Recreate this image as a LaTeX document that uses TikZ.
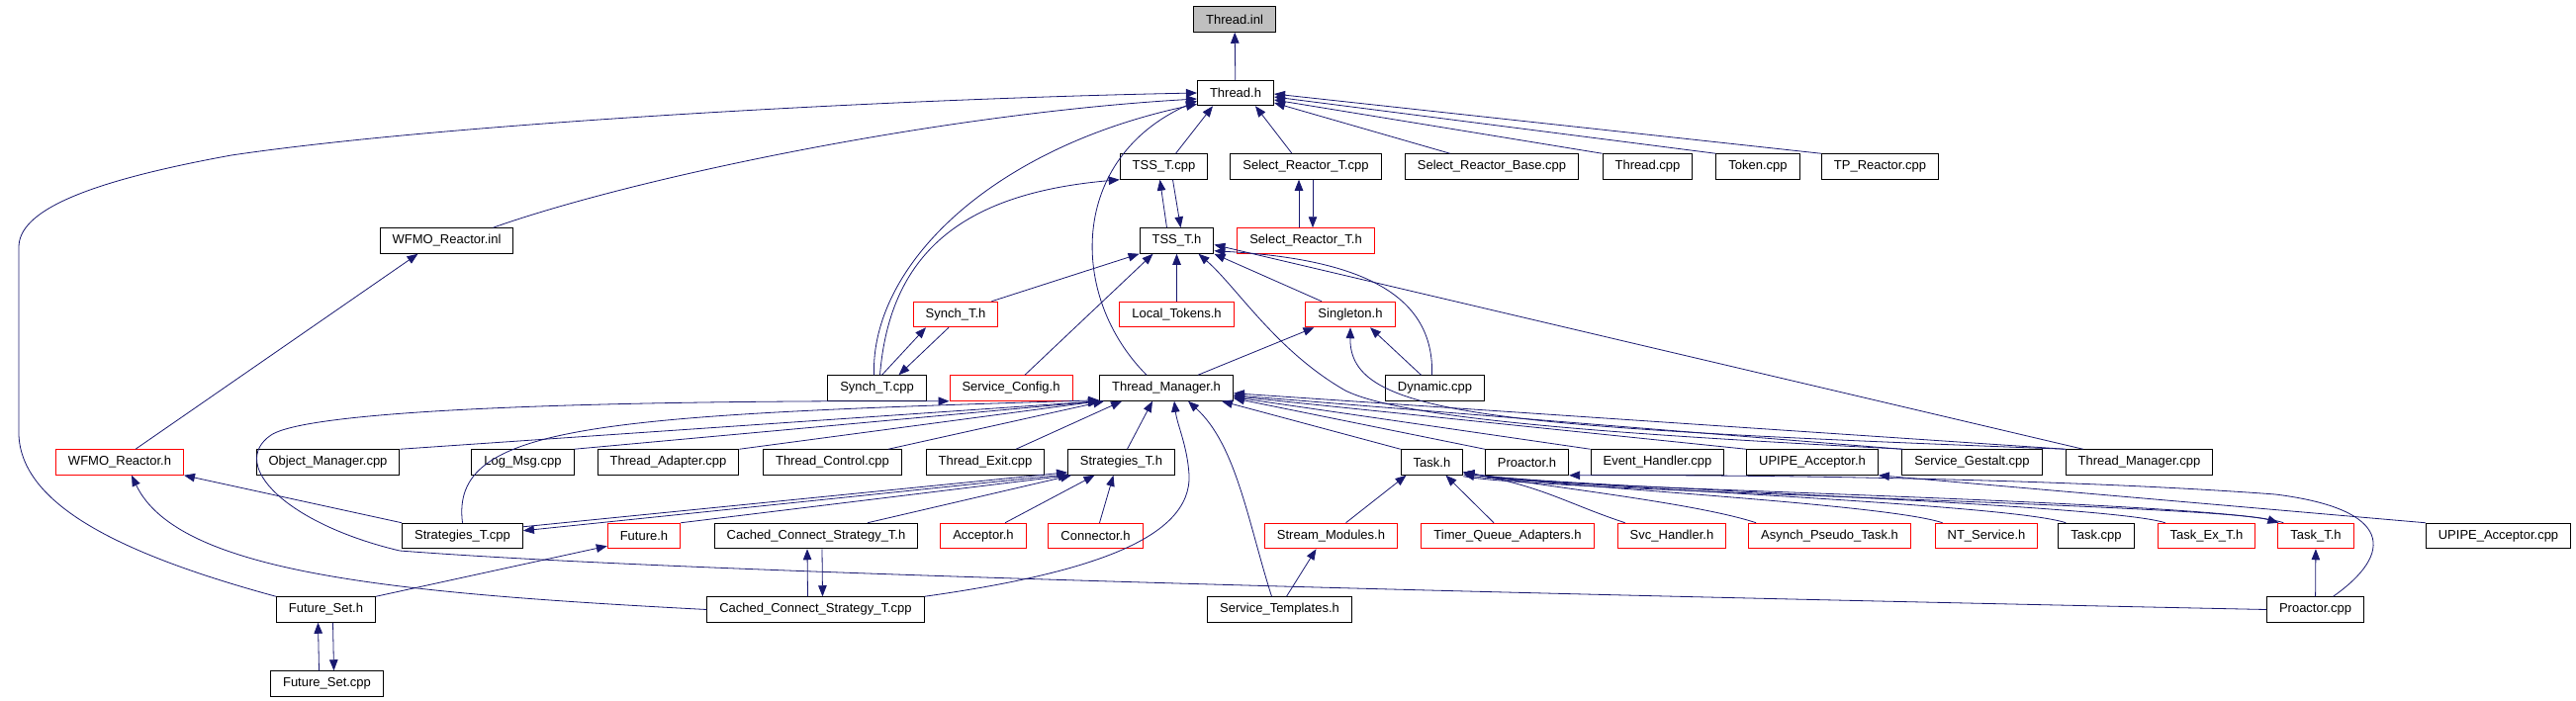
\documentclass[tikz,border=0pt]{standalone}
\usepackage{fontspec}
\setmainfont{Liberation Sans}
\usepackage{tikz}
\usetikzlibrary{arrows.meta}

\definecolor{edgeblue}{RGB}{25,25,112}
\definecolor{rootgray}{RGB}{191,191,191}

\begin{document}
\begin{tikzpicture}[x=1pt, y=-1pt,
	file/.style={draw=black, line width=1pt, font=\fontsize{13}{15}\selectfont, inner xsep=12.5pt, inner ysep=0pt, minimum height=25.5pt},
	redfile/.style={file, draw=red},
	rootfile/.style={file, fill=rootgray},
	dep/.style={draw=edgeblue, line width=0.8pt, -{Triangle[length=11pt, width=8.5pt]}}]
	\useasboundingbox (0,0) rectangle (2604,709);

	% files, row by row
	\node[rootfile] (ThreadInl) at (1248,19.5) {Thread.inl};
	\node[file] (ThreadH) at (1249,94) {Thread.h};

	\node[file] (TSSTcpp) at (1176.5,168.5) {TSS\_T.cpp};
	\node[file] (SelReactTcpp) at (1320,168.5) {Select\_Reactor\_T.cpp};
	\node[file] (SelReactBase) at (1508,168.5) {Select\_Reactor\_Base.cpp};
	\node[file] (ThreadCpp) at (1665.5,168.5) {Thread.cpp};
	\node[file] (TokenCpp) at (1777,168.5) {Token.cpp};
	\node[file] (TPReactor) at (1900.5,168.5) {TP\_Reactor.cpp};

	\node[file] (WFMOinl) at (451.5,243.5) {WFMO\_Reactor.inl};
	\node[file] (TSSTh) at (1189.5,243.5) {TSS\_T.h};
	\node[redfile] (SelReactTh) at (1320,243.5) {Select\_Reactor\_T.h};

	\node[redfile] (SynchTh) at (966,318) {Synch\_T.h};
	\node[redfile] (LocalTokens) at (1189.5,318) {Local\_Tokens.h};
	\node[redfile] (SingletonH) at (1365,318) {Singleton.h};

	\node[file] (SynchTcpp) at (886.5,392.5) {Synch\_T.cpp};
	\node[redfile] (ServiceConfig) at (1022,392.5) {Service\_Config.h};
	\node[file] (ThreadMgrH) at (1179,392.5) {Thread\_Manager.h};
	\node[file] (Dynamic) at (1450.5,392.5) {Dynamic.cpp};

	\node[redfile] (WFMOh) at (121,467.5) {WFMO\_Reactor.h};
	\node[file] (ObjMgr) at (331.5,467.5) {Object\_Manager.cpp};
	\node[file] (LogMsg) at (528.5,467.5) {Log\_Msg.cpp};
	\node[file] (ThreadAdapter) at (675.5,467.5) {Thread\_Adapter.cpp};
	\node[file] (ThreadControl) at (841.5,467.5) {Thread\_Control.cpp};
	\node[file] (ThreadExit) at (996,467.5) {Thread\_Exit.cpp};
	\node[file] (StrategiesTh) at (1133.5,467.5) {Strategies\_T.h};
	\node[file] (TaskH) at (1447.5,467.5) {Task.h};
	\node[file] (ProactorH) at (1543.5,467.5) {Proactor.h};
	\node[file] (EventHandler) at (1675.5,467.5) {Event\_Handler.cpp};
	\node[file] (UPIPEh) at (1832,467.5) {UPIPE\_Acceptor.h};
	\node[file] (ServiceGestalt) at (1993.5,467.5) {Service\_Gestalt.cpp};
	\node[file] (ThreadMgrCpp) at (2162.5,467.5) {Thread\_Manager.cpp};

	\node[file] (StrategiesTcpp) at (467.5,542) {Strategies\_T.cpp};
	\node[redfile] (FutureH) at (651,542) {Future.h};
	\node[file] (CCSTh) at (825,542) {Cached\_Connect\_Strategy\_T.h};
	\node[redfile] (AcceptorH) at (994,542) {Acceptor.h};
	\node[redfile] (ConnectorH) at (1107.5,542) {Connector.h};
	\node[redfile] (StreamModules) at (1345.5,542) {Stream\_Modules.h};
	\node[redfile] (TimerQueue) at (1524,542) {Timer\_Queue\_Adapters.h};
	\node[redfile] (SvcHandler) at (1690,542) {Svc\_Handler.h};
	\node[redfile] (AsynchPseudo) at (1849.5,542) {Asynch\_Pseudo\_Task.h};
	\node[redfile] (NTService) at (2008,542) {NT\_Service.h};
	\node[file] (TaskCpp) at (2119,542) {Task.cpp};
	\node[redfile] (TaskExT) at (2230.5,542) {Task\_Ex\_T.h};
	\node[redfile] (TaskT) at (2341,542) {Task\_T.h};
	\node[file] (UPIPEcpp) at (2525.5,542) {UPIPE\_Acceptor.cpp};

	\node[file] (FutureSetH) at (329.5,616.5) {Future\_Set.h};
	\node[file] (CCSTcpp) at (824.5,616.5) {Cached\_Connect\_Strategy\_T.cpp};
	\node[file] (ServiceTemplates) at (1293.5,616.5) {Service\_Templates.h};
	\node[file] (ProactorCpp) at (2340.5,616.5) {Proactor.cpp};

	\node[file] (FutureSetCpp) at (330.5,691.5) {Future\_Set.cpp};

	% into Thread.h
	\draw[dep] (ThreadH) -- (ThreadInl);
	\draw[dep] ([xshift=12pt]TSSTcpp.north) -- ([xshift=-23pt]ThreadH.south);
	\draw[dep] ([xshift=-14pt]SelReactTcpp.north) -- ([xshift=20pt]ThreadH.south);
	\draw[dep] ([xshift=46pt]SelReactBase.north west) -- ([yshift=-10pt]ThreadH.east);
	\foreach \src/\dy in {ThreadCpp/-7, TokenCpp/-4, TPReactor/-1}
		\draw[dep] (\src.north west) -- ([yshift=\dy pt]ThreadH.east);
	\draw[dep] ([xshift=-21pt]WFMOinl.north east) .. controls (640,180) and (950,115) .. ([yshift=-6pt]ThreadH.west);
	\draw[dep] (FutureSetH.north west) .. controls (120,560) and (22,510) .. (19,440) -- (19,250)
		.. controls (19,215) and (80,185) .. (234,157) .. controls (450,125) and (900,100) .. (ThreadH.west);
	\draw[dep] ([xshift=-3pt]SynchTcpp.north) .. controls (880,270) and (1000,150) .. ([yshift=2pt]ThreadH.south west);
	\draw[dep] ([xshift=-20pt]ThreadMgrH.north) .. controls (1080,300) and (1080,160) .. ([yshift=-8pt]ThreadH.west);

	% TSS_T and Select_Reactor_T
	\draw[dep] ([xshift=3pt]SynchTcpp.north) .. controls (900,250) and (980,195) .. (TSSTcpp.south west);
	\draw[dep] ([xshift=-10pt]TSSTh.north) -- ([xshift=-4pt]TSSTcpp.south);
	\draw[dep] ([xshift=9pt]TSSTcpp.south) -- ([xshift=4pt]TSSTh.north);
	\draw[dep] ([xshift=-7pt]SelReactTh.north) -- ([xshift=-7pt]SelReactTcpp.south);
	\draw[dep] ([xshift=7pt]SelReactTcpp.south) -- ([xshift=7pt]SelReactTh.north);
	\draw[dep] ([xshift=-7pt]SynchTh.north east) -- (TSSTh.south west);
	\draw[dep] ([xshift=14pt]ServiceConfig.north) -- ([xshift=-24pt]TSSTh.south);
	\draw[dep] (LocalTokens) -- (TSSTh);
	\draw[dep] ([xshift=-29pt]SingletonH.north) -- (TSSTh.south east);
	\draw[dep] ([xshift=-3pt]Dynamic.north) .. controls (1450,300) and (1380,262) .. ([yshift=3pt]TSSTh.south east);
	\draw[dep] ([xshift=18pt]ThreadMgrCpp.north west) -- ([yshift=-4pt]TSSTh.east);
	\draw[dep] ([xshift=2pt]ServiceGestalt.north west) .. controls (1650,440) and (1420,425) .. (1360,395)
		.. controls (1290,355) and (1250,290) .. ([xshift=22pt]TSSTh.south);

	% Synch_T
	\draw[dep] ([xshift=5pt]SynchTcpp.north) -- ([xshift=-30pt]SynchTh.south);
	\draw[dep] ([xshift=-7pt]SynchTh.south) -- ([xshift=22pt]SynchTcpp.north);

	% Singleton.h
	\draw[dep] ([xshift=32pt]ThreadMgrH.north) -- ([xshift=9pt]SingletonH.south west);
	\draw[dep] ([xshift=-14pt]Dynamic.north) -- ([xshift=20pt]SingletonH.south);
	\draw[dep] (ThreadMgrCpp.north west) .. controls (1500,432) and (1364,420) .. (SingletonH.south);

	% into Thread_Manager.h
	\foreach \src in {ObjMgr, LogMsg, ThreadAdapter}
		\draw[dep] (\src.north east) -- (ThreadMgrH.south west);
	\draw[dep] ([xshift=-14pt]ThreadControl.north east) -- ([xshift=5pt]ThreadMgrH.south west);
	\draw[dep] ([xshift=31pt]ThreadExit.north) -- ([xshift=-45pt]ThreadMgrH.south);
	\draw[dep] ([xshift=6pt]StrategiesTh.north) -- ([xshift=-14pt]ThreadMgrH.south);
	\draw[dep] (StrategiesTcpp.north) .. controls (455,430) and (600,420) .. ([yshift=1pt]ThreadMgrH.south west);
	\draw[dep] (CCSTcpp.north east) .. controls (1100,580) and (1205,545) .. (1202,480)
		.. controls (1200,450) and (1190,430) .. ([xshift=8pt]ThreadMgrH.south);
	\draw[dep] ([xshift=-8pt]ServiceTemplates.north) .. controls (1262,530) and (1250,450) .. ([xshift=22pt]ThreadMgrH.south);
	\draw[dep] (TaskH.north west) -- ([xshift=-12pt]ThreadMgrH.south east);
	\foreach \src/\dy in {ProactorH/3, EventHandler/4, UPIPEh/5, ServiceGestalt/6, ThreadMgrCpp/8}
		\draw[dep] (\src.north west) -- ([yshift=\dy pt]ThreadMgrH.south east);

	% Service_Config.h
	\draw[dep] (ProactorCpp.west) .. controls (1500,600) and (700,580) .. (404,557)
		.. controls (290,530) and (230,470) .. (274,440) .. controls (320,410) and (700,405) .. (ServiceConfig.south west);

	% Task.h
	\draw[dep] ([xshift=15pt]StreamModules.north) -- ([xshift=-26pt]TaskH.south);
	\draw[dep] ([xshift=-14pt]TimerQueue.north) -- ([xshift=14pt]TaskH.south);
	\foreach \src in {SvcHandler, AsynchPseudo, NTService, TaskCpp, TaskExT}
		\draw[dep] ([xshift=8pt]\src.north west) .. controls +(-60,-20) and (1560,492) .. ([yshift=3pt]TaskH.south east);
	\draw[dep] ([xshift=6pt]TaskT.north west) .. controls +(-60,-22) and (1560,494) .. ([yshift=1pt]TaskH.south east);
	\draw[dep] ([yshift=-1pt]TaskH.south east) .. controls (1560,497) and +(-60,-18) .. ([xshift=1pt]TaskT.north west);
	\draw[dep] ([xshift=7pt]ServiceTemplates.north) -- ([xshift=-15pt]StreamModules.south);

	% Proactor and UPIPE_Acceptor
	\draw[dep] (ProactorCpp) -- (TaskT);
	\draw[dep] ([xshift=18pt]ProactorCpp.north) .. controls (2420,560) and (2420,515) .. (2300,500)
		.. controls (2100,485) and (1800,480) .. (ProactorH.south east);
	\draw[dep] (UPIPEcpp.north west) -- (UPIPEh.south east);

	% Strategies_T.h
	\draw[dep] ([yshift=-4pt]StrategiesTcpp.north east) -- ([yshift=3pt]StrategiesTh.south west);
	\draw[dep] ([yshift=1pt]StrategiesTh.south west) -- ([yshift=-8pt]StrategiesTcpp.north east);
	\draw[dep] (FutureH.north east) -- ([xshift=2pt]StrategiesTh.south west);
	\draw[dep] ([xshift=52pt]CCSTh.north) -- ([xshift=4pt]StrategiesTh.south west);
	\draw[dep] ([xshift=22pt]AcceptorH.north) -- ([xshift=-27pt]StrategiesTh.south);
	\draw[dep] ([xshift=4pt]ConnectorH.north) -- ([xshift=-8pt]StrategiesTh.south);

	% Future and Cached_Connect_Strategy_T
	\draw[dep] (FutureSetH.north east) -- ([yshift=3pt]FutureH.south west);
	\draw[dep] ([xshift=-8pt]FutureSetCpp.north) -- ([xshift=-8pt]FutureSetH.south);
	\draw[dep] ([xshift=7pt]FutureSetH.south) -- ([xshift=7pt]FutureSetCpp.north);
	\draw[dep] ([xshift=-8pt]CCSTcpp.north) -- ([xshift=-9pt]CCSTh.south);
	\draw[dep] ([xshift=6pt]CCSTh.south) -- ([xshift=7pt]CCSTcpp.north);

	% WFMO_Reactor
	\draw[dep] ([xshift=16pt]WFMOh.north) -- ([xshift=-29pt]WFMOinl.south);
	\draw[dep] (StrategiesTcpp.north west) -- (WFMOh.south east);
	\draw[dep] (CCSTcpp.west) .. controls (400,600) and (180,580) .. ([xshift=12pt]WFMOh.south);
\end{tikzpicture}
\end{document}
